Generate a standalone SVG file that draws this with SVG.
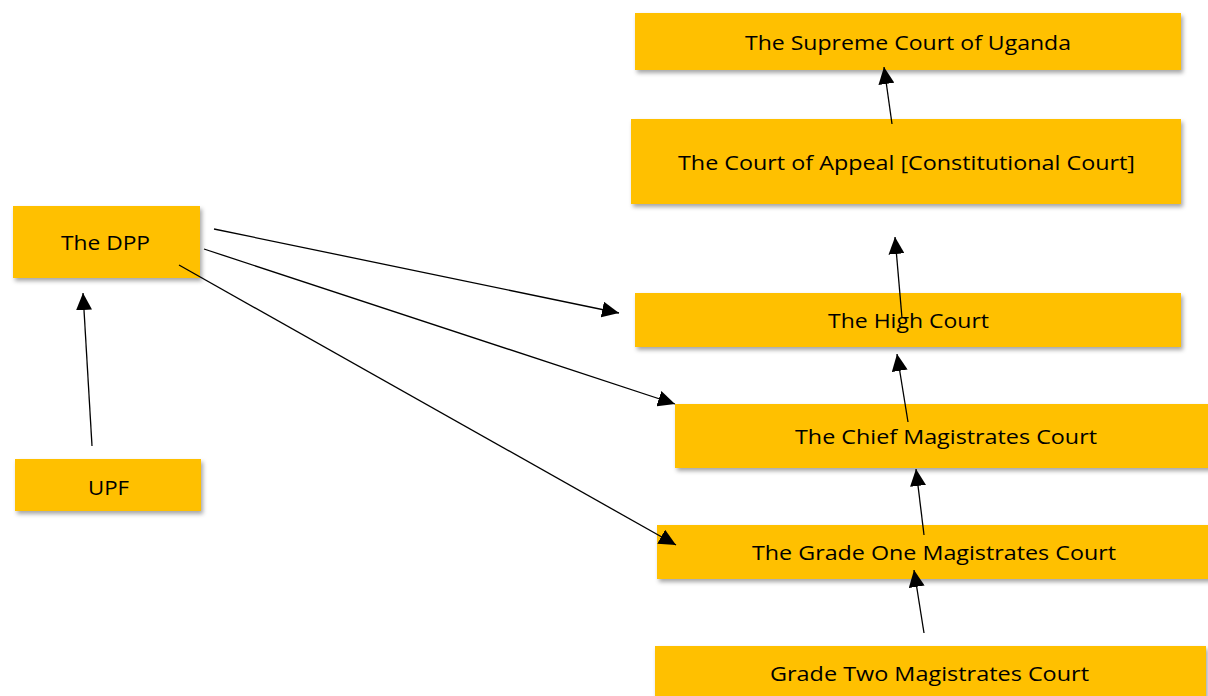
<svg xmlns="http://www.w3.org/2000/svg" width="1208" height="696" viewBox="0 0 1208 696">
<style>
.box{fill:#FFC000;filter:url(#sh)}
.lbl{font-family:"Open Sans","Liberation Sans",Arial,sans-serif;font-size:20px;fill:#000;text-anchor:middle}
.c{stroke:#000;stroke-width:1.3;fill:none;marker-end:url(#ah)}
</style>
<defs>
<filter id="sh" x="-5%" y="-20%" width="115%" height="160%">
<feDropShadow dx="2" dy="3" stdDeviation="2" flood-color="#000" flood-opacity="0.35"/>
</filter>
<marker id="ah" markerUnits="userSpaceOnUse" markerWidth="18" markerHeight="16" refX="17" refY="8" orient="auto">
<path d="M0,0 L17,8 L0,16 Z" fill="#000"/>
</marker>
</defs>
<rect width="1208" height="696" fill="#fff"/>
<g id="supreme"><rect class="box" x="635" y="13" width="546" height="57"/><text class="lbl" x="908" y="50" textLength="326" lengthAdjust="spacingAndGlyphs">The Supreme Court of Uganda</text></g>
<g id="appeal"><rect class="box" x="631" y="119" width="550" height="85"/><text class="lbl" x="906.5" y="170" textLength="457" lengthAdjust="spacingAndGlyphs">The Court of Appeal [Constitutional Court]</text></g>
<g id="dpp"><rect class="box" x="13" y="206" width="187" height="72"/><text class="lbl" x="105.5" y="250" textLength="89" lengthAdjust="spacingAndGlyphs">The DPP</text></g>
<g id="upf"><rect class="box" x="15" y="459" width="186" height="52"/><text class="lbl" x="108.5" y="495" textLength="41" lengthAdjust="spacingAndGlyphs">UPF</text></g>
<g id="high"><rect class="box" x="635" y="293" width="546" height="54"/><text class="lbl" x="908.5" y="328" textLength="161" lengthAdjust="spacingAndGlyphs">The High Court</text></g>
<g id="chief"><rect class="box" x="675" y="404" width="540" height="64"/><text class="lbl" x="946" y="444" textLength="302" lengthAdjust="spacingAndGlyphs">The Chief Magistrates Court</text></g>
<g id="gradeone"><rect class="box" x="657" y="525" width="560" height="54"/><text class="lbl" x="934" y="560" textLength="364" lengthAdjust="spacingAndGlyphs">The Grade One Magistrates Court</text></g>
<g id="gradetwo"><rect class="box" x="655" y="646" width="551" height="60"/><text class="lbl" x="929.5" y="681" textLength="319" lengthAdjust="spacingAndGlyphs">Grade Two Magistrates Court</text></g>
<g id="connectors">
<line class="c" x1="892" y1="124" x2="884" y2="67"/>
<line class="c" x1="902" y1="318" x2="895" y2="237"/>
<line class="c" x1="908" y1="422" x2="897" y2="354"/>
<line class="c" x1="924" y1="535" x2="916" y2="469"/>
<line class="c" x1="924" y1="633" x2="914" y2="570"/>
<line class="c" x1="92" y1="446" x2="83" y2="293"/>
<line class="c" x1="214" y1="229" x2="619" y2="313"/>
<line class="c" x1="204" y1="249" x2="675" y2="404"/>
<line class="c" x1="179" y1="265" x2="676" y2="545"/>
</g>
</svg>
